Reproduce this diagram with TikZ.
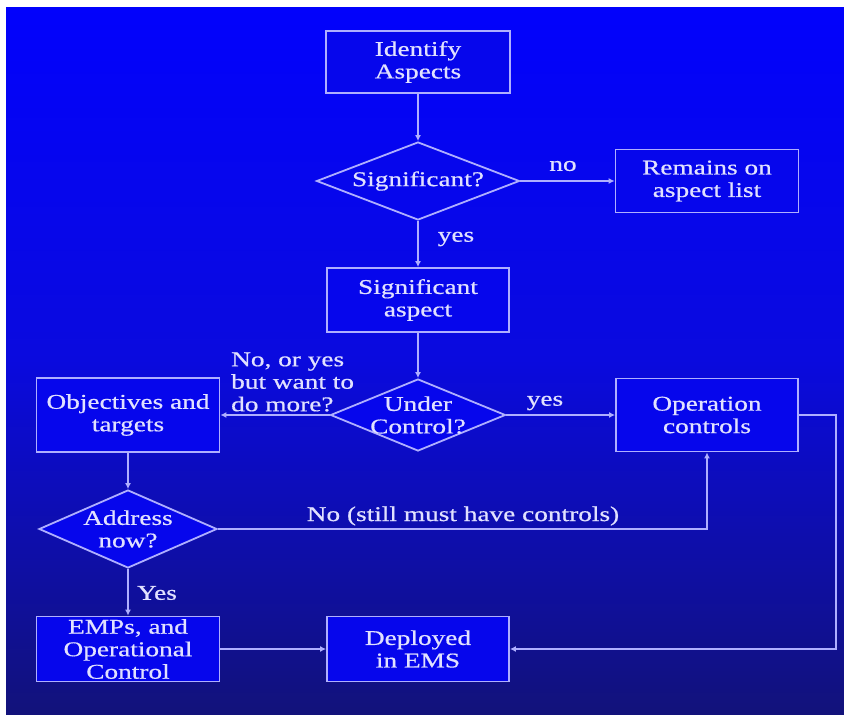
\documentclass[tikz,border=0pt]{standalone}
\usepackage{fontspec}
\setmainfont[FakeStretch=1.3,FakeBold=0.6]{Liberation Serif}
\usetikzlibrary{shapes.geometric,arrows.meta}
\definecolor{bgtop}{RGB}{2,2,252}
\definecolor{bgmid}{RGB}{10,10,222}
\definecolor{bgbot}{RGB}{18,18,122}
\definecolor{nodefill}{RGB}{6,6,236}
\definecolor{linec}{RGB}{175,175,255}
\definecolor{textc}{RGB}{225,225,255}
\begin{document}
\begin{tikzpicture}[x=1pt,y=-1pt,
  every node/.style={font=\fontsize{21}{22.5}\selectfont, text=textc},
  box/.style={draw=linec, line width=1.8pt, fill=nodefill, rectangle,
    minimum width=182pt, minimum height=#1, align=center, inner sep=0pt},
  box/.default=64pt,
  dia/.style={draw=linec, line width=1.8pt, fill=nodefill, diamond,
    inner sep=0pt, minimum width=#1},
  conn/.style={draw=linec, line width=1.8pt, -{Latex[length=6pt,width=6pt]}},
  lbl/.style={inner sep=0pt, align=left}
]
\useasboundingbox (0,0) rectangle (844,715);
\fill[white] (0,0) rectangle (844,715);
\shade[top color=bgtop, bottom color=bgmid] (6,7) rectangle (844,361);
\shade[top color=bgmid, bottom color=bgbot] (6,360) rectangle (844,715);

% nodes
\node[box=62pt, minimum width=184pt] (ident) at (418,62) {Identify\\Aspects};
\node[dia=203pt, minimum height=78pt,
  label={[inner sep=0pt]center:Significant?}] (sig) at (418,181) {};
\node[box=63pt, minimum width=183pt] (rem) at (707,181) {Remains on\\aspect list};
\node[box=64pt] (sasp) at (418,300) {Significant\\aspect};
\node[dia=175pt, minimum height=72pt,
  label={[align=center, inner sep=0pt]center:Under\\Control?}] (uc) at (418,415) {};
\node[box=74pt, minimum width=183pt] (obj) at (128,415) {Objectives and\\targets};
\node[box=73pt] (op) at (707,415) {Operation\\controls};
\node[dia=178pt, minimum height=78pt,
  label={[align=center, inner sep=0pt]center:Address\\now?}] (addr) at (128,529) {};
\node[box=65pt, minimum width=183pt] (emps) at (128,649) {EMPs, and\\Operational\\Control};
\node[box=65pt] (dep) at (418,649) {Deployed\\in EMS};

% labels
\node[lbl] (lno) at (563,166) {no};
\node[lbl] (lyes1) at (456,239) {yes};
\node[lbl, anchor=west] (lmore) at (231,382) {No, or yes\\but want to\\do more?};
\node[lbl] (lyes2) at (545,403) {yes};
\node[lbl] (lstill) at (463,516) {No (still must have controls)};
\node[lbl] (lyes3) at (157,593) {Yes};

% connectors
\draw[conn] (ident.south) -- (sig.north);
\draw[conn] (sig.east) -- (rem.west);
\draw[conn] (sig.south) -- (sasp.north);
\draw[conn] (sasp.south) -- (uc.north);
\draw[conn] (uc.west) -- (obj.east);
\draw[conn] (uc.east) -- (op.west);
\draw[conn] (obj.south) -- (addr.north);
\draw[conn] (addr.east) -| (op.south);
\draw[conn] (addr.south) -- (emps.north);
\draw[conn] (emps.east) -- (dep.west);
\draw[conn] (op.east) -- ++(37,0) |- (dep.east);
\end{tikzpicture}
\end{document}
